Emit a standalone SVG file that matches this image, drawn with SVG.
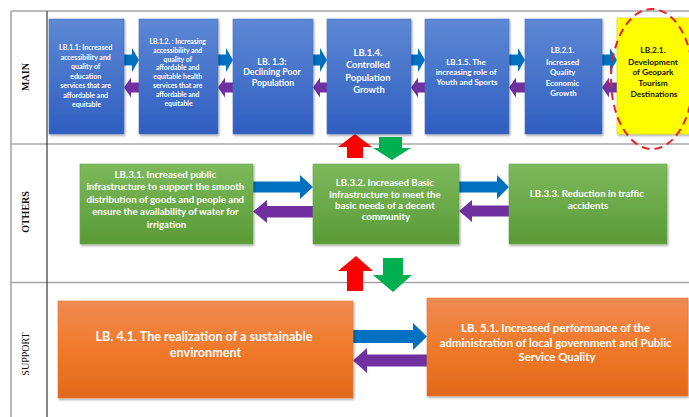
<svg xmlns="http://www.w3.org/2000/svg" width="689" height="417" viewBox="0 0 689 417">
  <defs>
    <linearGradient id="gBlue" x1="0" y1="0" x2="0" y2="1">
      <stop offset="0" stop-color="#5d88d4"/>
      <stop offset="1" stop-color="#2f5ec0"/>
    </linearGradient>
    <linearGradient id="gGreen" x1="0" y1="0" x2="0" y2="1">
      <stop offset="0" stop-color="#7cb95c"/>
      <stop offset="1" stop-color="#5a9a36"/>
    </linearGradient>
    <linearGradient id="gOrange" x1="0" y1="0" x2="0" y2="1">
      <stop offset="0" stop-color="#f08b52"/>
      <stop offset="0.5" stop-color="#f07a2a"/>
      <stop offset="1" stop-color="#e1681a"/>
    </linearGradient>
    <filter id="shadow" x="-10%" y="-10%" width="130%" height="130%">
      <feDropShadow dx="1" dy="1.5" stdDeviation="1" flood-color="#000" flood-opacity="0.35"/>
    </filter>
  </defs>
  <style>
    .frameG { stroke: #a6a6a6; stroke-width: 1.6; fill: none; }
    .frameD { stroke: #3a3a3a; stroke-width: 1.2; fill: none; }
    .lane { font-family: "Liberation Serif", "Times New Roman", serif; font-size: 10px; fill: #111; text-anchor: middle; }
    .blue { fill: url(#gBlue); stroke: #4a74c4; stroke-width: 0.6; filter: url(#shadow); }
    .green { fill: url(#gGreen); stroke: #6aa84a; stroke-width: 0.6; filter: url(#shadow); }
    .orange { fill: url(#gOrange); stroke: #e07a3a; stroke-width: 0.6; filter: url(#shadow); }
    .yellow { fill: #ffff00; stroke: #d8d800; stroke-width: 0.6; filter: url(#shadow); }
    .t { font-family: Lato, "Liberation Sans", Arial, sans-serif; font-weight: bold; fill: #fff; text-anchor: middle; }
    .tk { font-family: Lato, "Liberation Sans", Arial, sans-serif; font-weight: bold; fill: #111; text-anchor: middle; }
    .ab { fill: #0070c0; }
    .ap { fill: #7030a0; }
    .ar { fill: #ff0000; }
    .ag { fill: #00b050; }
    .ring { fill: none; stroke: #e8202a; stroke-width: 2; stroke-dasharray: 8 5; }
  </style>

  <rect width="689" height="417" fill="#ffffff"/>

  <!-- lane grid -->
  <g id="grid">
    <line class="frameG" x1="11" y1="11" x2="689" y2="11"/>
    <line class="frameG" x1="11" y1="144" x2="689" y2="144"/>
    <line class="frameG" x1="11" y1="282.5" x2="689" y2="282.5"/>
    <line class="frameG" x1="11" y1="11" x2="11" y2="417"/>
    <line class="frameD" x1="47" y1="11" x2="47" y2="417"/>
    <text class="lane" font-weight="bold" transform="translate(29,77) rotate(-90)">MAIN</text>
    <text class="lane" font-weight="bold" transform="translate(29,212) rotate(-90)">OTHERS</text>
    <text class="lane" transform="translate(29,354) rotate(-90)">SUPPORT</text>
  </g>

  <!-- connectors -->
  <g id="connectors">
    <!-- main row: forward (blue) and backward (purple) -->
    <polygon class="ab" points="124,54.5 132,54.5 132,48 139,60 132,72 132,65.5 124,65.5"/>
    <polygon class="ap" points="139,82.5 131,82.5 131,77.5 124,87.5 131,97.5 131,92.5 139,92.5"/>
    <polygon class="ab" points="218,54.5 226,54.5 226,48 233,60 226,72 226,65.5 218,65.5"/>
    <polygon class="ap" points="233,82.5 225,82.5 225,77.5 218,87.5 225,97.5 225,92.5 233,92.5"/>
    <polygon class="ab" points="313,54.5 320,54.5 320,48 327,60 320,72 320,65.5 313,65.5"/>
    <polygon class="ap" points="327,82.5 320,82.5 320,77.5 313,87.5 320,97.5 320,92.5 327,92.5"/>
    <polygon class="ab" points="411,54.5 418,54.5 418,48 425,60 418,72 418,65.5 411,65.5"/>
    <polygon class="ap" points="425,82.5 418,82.5 418,77.5 411,87.5 418,97.5 418,92.5 425,92.5"/>
    <polygon class="ab" points="509,54.5 518,54.5 518,48 525,60 518,72 518,65.5 509,65.5"/>
    <polygon class="ap" points="525,82.5 516,82.5 516,77.5 509,87.5 516,97.5 516,92.5 525,92.5"/>
    <polygon class="ab" points="602,54.5 610,54.5 610,48 617,60 610,72 610,65.5 602,65.5"/>
    <polygon class="ap" points="617,82.5 609,82.5 609,77.5 602,87.5 609,97.5 609,92.5 617,92.5"/>

    <!-- others row -->
    <polygon class="ab" points="253,181.5 300,181.5 300,175 313,187 300,199 300,192.5 253,192.5"/>
    <polygon class="ap" points="313,206 267,206 267,200 253,211.5 267,223 267,217.5 313,217.5"/>
    <polygon class="ab" points="459,181.5 497,181.5 497,175 509,187 497,199 497,192.5 459,192.5"/>
    <polygon class="ap" points="509,205.5 472,205.5 472,200 459,211 472,222 472,216.5 509,216.5"/>

    <!-- support row -->
    <polygon class="ab" points="353,330 413,330 413,323 427,336.5 413,350 413,343 353,343"/>
    <polygon class="ap" points="427,354.5 367,354.5 367,348 353,360.5 367,373 367,366.5 427,366.5"/>

    <!-- between main and others -->
    <polygon class="ar" points="355,134 372,147 363,147 363,158 347,158 347,147 338,147"/>
    <polygon class="ag" points="379,137 402,137 402,148 411,148 392,160 373,148 379,148"/>

    <!-- between others and support -->
    <polygon class="ar" points="356,256 373,271 363,271 363,291 347,291 347,271 338,271"/>
    <polygon class="ag" points="383,258 403,258 403,275 412,275 393,292 373,275 383,275"/>
  </g>

  <!-- MAIN lane -->
  <g id="lb111">
    <rect class="blue" x="49" y="19" width="75" height="115"/>
    <text class="t" font-size="7">
      <tspan x="86.5" y="50.2">LB.1.1: Increased</tspan>
      <tspan x="86.5" y="59.7">accessibility and</tspan>
      <tspan x="86.5" y="69.2">quality of</tspan>
      <tspan x="86.5" y="78.7">education</tspan>
      <tspan x="86.5" y="88.2">services that are</tspan>
      <tspan x="86.5" y="97.7">affordable and</tspan>
      <tspan x="86.5" y="107.2">equitable</tspan>
    </text>
  </g>
  <g id="lb112">
    <rect class="blue" x="139" y="19" width="79" height="115"/>
    <text class="t" font-size="6.8">
      <tspan x="178.5" y="44">LB.1.2. : Increasing</tspan>
      <tspan x="178.5" y="52.8">accessibility and</tspan>
      <tspan x="178.5" y="61.6">quality of</tspan>
      <tspan x="178.5" y="70.4">affordable and</tspan>
      <tspan x="178.5" y="79.2">equitable health</tspan>
      <tspan x="178.5" y="88">services that are</tspan>
      <tspan x="178.5" y="96.8">affordable and</tspan>
      <tspan x="178.5" y="105.6">equitable</tspan>
    </text>
  </g>
  <g id="lb113">
    <rect class="blue" x="233" y="19" width="80" height="115"/>
    <text class="t" font-size="8.8">
      <tspan x="273" y="64.7">LB. 1.3:</tspan>
      <tspan x="273" y="75.2">Declining Poor</tspan>
      <tspan x="273" y="86.2">Population</tspan>
    </text>
  </g>
  <g id="lb114">
    <rect class="blue" x="327" y="19" width="84" height="115"/>
    <text class="t" font-size="9.4">
      <tspan x="369" y="55.7">LB.1.4.</tspan>
      <tspan x="369" y="67.7">Controlled</tspan>
      <tspan x="369" y="80.7">Population</tspan>
      <tspan x="369" y="92.7">Growth</tspan>
    </text>
  </g>
  <g id="lb115">
    <rect class="blue" x="425" y="19" width="84" height="115"/>
    <text class="t" font-size="8">
      <tspan x="467" y="64.8">LB.1.5.  The</tspan>
      <tspan x="467" y="74.8">increasing role of</tspan>
      <tspan x="467" y="84.8">Youth and Sports</tspan>
    </text>
  </g>
  <g id="lb121">
    <rect class="blue" x="525" y="19" width="77" height="115"/>
    <text class="t" font-size="7.8">
      <tspan x="563.5" y="52.8">LB.2.1.</tspan>
      <tspan x="563.5" y="64.5">Increased</tspan>
      <tspan x="563.5" y="74.8">Quality</tspan>
      <tspan x="563.5" y="85.6">Economic</tspan>
      <tspan x="563.5" y="96.2">Growth</tspan>
    </text>
  </g>
  <g id="lb221">
    <rect class="yellow" x="617" y="18" width="80" height="116"/>
    <text class="tk" font-size="8.3">
      <tspan x="654" y="53">LB.2.1.</tspan>
      <tspan x="654" y="64.5">Development</tspan>
      <tspan x="654" y="75">of Geopark</tspan>
      <tspan x="654" y="86">Tourism</tspan>
      <tspan x="654" y="96.5">Destinations</tspan>
    </text>
    <ellipse class="ring" cx="652" cy="79" rx="41" ry="70"/>
  </g>

  <!-- OTHERS lane -->
  <g id="lb31">
    <rect class="green" x="80" y="164" width="173" height="80"/>
    <text class="t" font-size="9.7">
      <tspan x="166.5" y="177.8">LB.3.1. Increased public</tspan>
      <tspan x="166.5" y="190.2">infrastructure to support the smooth</tspan>
      <tspan x="166.5" y="202.8">distribution of goods and people and</tspan>
      <tspan x="166.5" y="215.2">ensure the availability of water for</tspan>
      <tspan x="166.5" y="227.5">irrigation</tspan>
    </text>
  </g>
  <g id="lb32">
    <rect class="green" x="313" y="164" width="146" height="80"/>
    <text class="t" font-size="9.7">
      <tspan x="386" y="186.2">LB.3.2. Increased Basic</tspan>
      <tspan x="386" y="197.5">Infrastructure to meet the</tspan>
      <tspan x="386" y="208.5">basic needs of a decent</tspan>
      <tspan x="386" y="220.2">community</tspan>
    </text>
  </g>
  <g id="lb33">
    <rect class="green" x="509" y="164" width="158" height="80"/>
    <text class="t" font-size="9.7">
      <tspan x="588" y="196.8">LB.3.3. Reduction in traffic</tspan>
      <tspan x="588" y="209.2">accidents</tspan>
    </text>
  </g>

  <!-- SUPPORT lane -->
  <g id="lb41">
    <rect class="orange" x="58" y="301" width="295" height="97"/>
    <text class="t" font-size="12.6">
      <tspan x="205.5" y="341.2">LB. 4.1. The realization of a sustainable</tspan>
      <tspan x="205.5" y="357.2">environment</tspan>
    </text>
  </g>
  <g id="lb51">
    <rect class="orange" x="427" y="298" width="261" height="98"/>
    <text class="t" font-size="11.4">
      <tspan x="557" y="331.8">LB. 5.1. Increased performance  of the</tspan>
      <tspan x="557" y="346.8">administration of local government and Public</tspan>
      <tspan x="557" y="361.4">Service Quality</tspan>
    </text>
  </g>
</svg>
